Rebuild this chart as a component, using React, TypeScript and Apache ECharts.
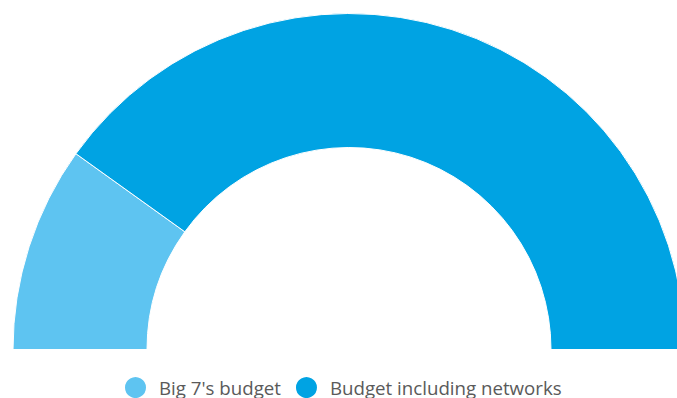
import React, { useEffect, useRef } from "react";
import * as echarts from "echarts";

const categories = ["Big 7's budget", "Budget including networks"];
const values = [19.8, 80.2];
const colors = ["#5EC4F1", "#00A3E3"];

export default function App() {
  const ref = useRef<HTMLDivElement>(null);
  useEffect(() => {
    if (!ref.current) return;
    const chart = echarts.init(ref.current, null, { renderer: "svg" });
    chart.setOption({
      animation: false,
      legend: {
        top: 375,
        left: 123,
        padding: 0,
        icon: "circle",
        itemWidth: 23,
        itemHeight: 23,
        itemGap: 13,
        selectedMode: false,
        textStyle: {
          fontFamily: "Open Sans",
          fontSize: 18.7,
          color: "#5a5a5a",
          padding: [0, 0, 0, 7],
        },
        data: categories,
      },
      series: [
        {
          type: "pie",
          center: [349, 349.5],
          radius: [202, 336],
          startAngle: 180,
          endAngle: 0,
          clockwise: true,
          label: { show: false },
          labelLine: { show: false },
          emphasis: { disabled: true },
          itemStyle: { borderColor: "#ffffff", borderWidth: 1 },
          data: categories.map((name, i) => ({
            name,
            value: values[i],
            itemStyle: { color: colors[i] },
          })),
        },
      ],
    });
    return () => chart.dispose();
  }, []);
  return (
    <div
      ref={ref}
      style={{ position: "absolute", left: 0, top: 0, width: 677, height: 398 }}
    />
  );
}
